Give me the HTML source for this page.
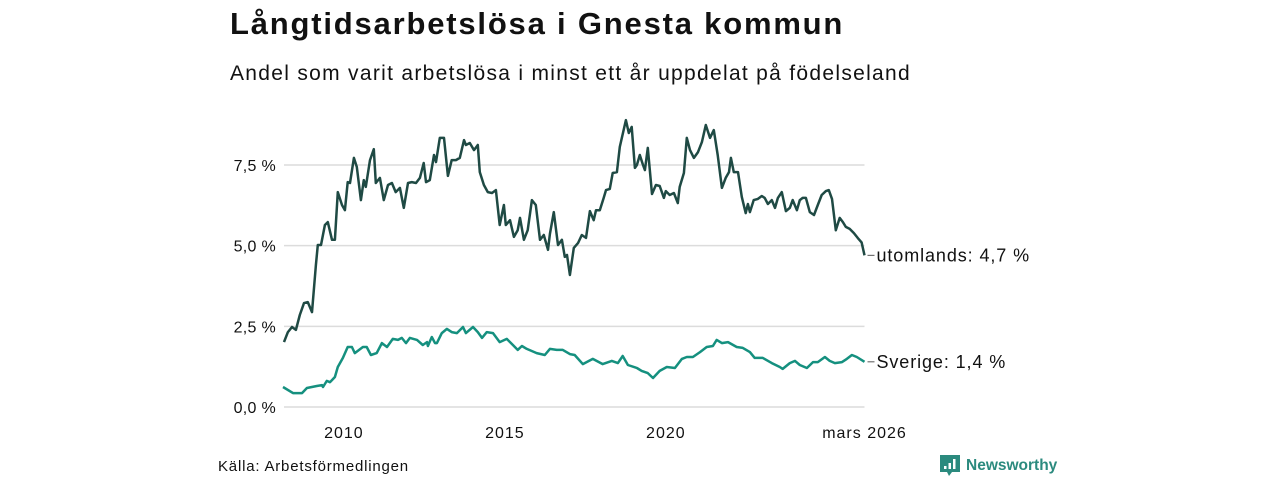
<!DOCTYPE html>
<html><head><meta charset="utf-8"><style>
body{margin:0;background:#fff;width:1280px;height:480px;overflow:hidden;font-family:"Liberation Sans",sans-serif;color:#111}
#t{position:absolute;left:230px;top:6px;font-size:31px;font-weight:bold;margin:0;letter-spacing:1.8px}
#s{position:absolute;left:230px;top:62px;font-size:21px;letter-spacing:1.3px}
#src{position:absolute;left:218px;top:458px;font-size:15px;letter-spacing:0.8px}
#logo{position:absolute;left:940px;top:455px;font-size:15.5px;font-weight:bold;color:#2b8a7e;display:flex;align-items:center;gap:6px}
svg{position:absolute;left:0;top:0}
</style></head><body>
<h1 id="t">Långtidsarbetslösa i Gnesta kommun</h1>
<div id="s">Andel som varit arbetslösa i minst ett år uppdelat på födelseland</div>
<div id="src">Källa: Arbetsförmedlingen</div>
<div id="logo"><svg style="position:static" width="20" height="22" viewBox="0 0 20 22"><path d="M0 0h20v17h-8l-3 4-2-4H0z" fill="#2b8a7e"/><rect x="4" y="11" width="2.5" height="3" fill="#fff"/><rect x="8.5" y="8" width="2.5" height="6" fill="#fff"/><rect x="13" y="4" width="2.5" height="10" fill="#fff"/></svg><span>Newsworthy</span></div>
<svg id="chart" width="1280" height="480"></svg>
<script>
const yTicks=[0,2.5,5,7.5];
const yTickLabels=["0,0 %","2,5 %","5,0 %","7,5 %"];
const xTicks=[2010,2015,2020,2026.17];
const xTickLabels=["2010","2015","2020","mars 2026"];
const foreignDates=[2008.14,2008.26,2008.39,2008.51,2008.63,2008.76,2008.88,2009.01,2009.13,2009.19,2009.29,2009.41,2009.50,2009.63,2009.72,2009.81,2009.94,2010.03,2010.12,2010.19,2010.31,2010.40,2010.53,2010.62,2010.68,2010.81,2010.93,2010.99,2011.12,2011.24,2011.37,2011.49,2011.61,2011.74,2011.86,2011.99,2012.11,2012.24,2012.36,2012.48,2012.55,2012.67,2012.80,2012.86,2012.98,2013.11,2013.23,2013.35,2013.48,2013.60,2013.73,2013.79,2013.91,2014.04,2014.16,2014.22,2014.35,2014.47,2014.60,2014.72,2014.84,2014.97,2015.03,2015.16,2015.28,2015.40,2015.47,2015.59,2015.71,2015.84,2015.96,2016.09,2016.21,2016.34,2016.40,2016.52,2016.65,2016.77,2016.86,2016.93,2017.02,2017.14,2017.27,2017.39,2017.52,2017.64,2017.76,2017.83,2017.95,2018.07,2018.14,2018.26,2018.35,2018.48,2018.57,2018.76,2018.85,2018.94,2019.04,2019.10,2019.19,2019.29,2019.35,2019.44,2019.57,2019.69,2019.81,2019.94,2020.00,2020.12,2020.25,2020.37,2020.43,2020.56,2020.65,2020.75,2020.87,2021.00,2021.12,2021.24,2021.37,2021.49,2021.61,2021.74,2021.86,2021.96,2022.02,2022.11,2022.24,2022.36,2022.48,2022.55,2022.61,2022.73,2022.86,2022.98,2023.07,2023.17,2023.29,2023.39,2023.48,2023.60,2023.73,2023.85,2023.94,2024.07,2024.16,2024.25,2024.35,2024.47,2024.60,2024.72,2024.84,2024.97,2025.06,2025.16,2025.28,2025.40,2025.50,2025.59,2025.71,2025.84,2025.96,2026.08,2026.17];
const foreignValues=[2.01,2.32,2.48,2.39,2.85,3.22,3.25,2.94,4.40,5.02,5.02,5.64,5.73,5.18,5.18,6.66,6.26,6.10,6.97,6.94,7.72,7.44,6.41,7.03,6.82,7.65,7.99,6.94,7.10,6.41,6.88,6.94,6.66,6.79,6.17,6.94,6.97,6.94,7.10,7.56,6.97,7.03,7.81,7.59,8.34,8.34,7.16,7.65,7.65,7.72,8.27,8.12,8.18,7.96,8.12,7.28,6.88,6.66,6.63,6.72,5.64,6.26,5.64,5.79,5.27,5.48,5.86,5.18,5.48,6.41,6.26,5.18,5.33,4.87,5.36,6.04,5.02,5.18,4.65,4.71,4.09,4.93,5.08,5.33,5.24,6.07,5.79,6.10,6.10,6.48,6.72,6.76,7.25,7.28,8.06,8.89,8.49,8.68,7.41,7.50,7.81,7.50,7.34,8.03,6.60,6.88,6.85,6.48,6.69,6.57,6.63,6.32,6.82,7.25,8.34,7.96,7.72,7.90,8.21,8.74,8.34,8.58,7.81,6.79,7.10,7.28,7.72,7.28,7.28,6.51,6.01,6.29,6.04,6.41,6.45,6.54,6.48,6.29,6.41,6.17,6.48,6.66,6.07,6.17,6.41,6.10,6.41,6.48,6.48,6.04,5.95,6.26,6.57,6.69,6.72,6.45,5.48,5.86,5.73,5.58,5.52,5.39,5.24,5.10,4.70];
const swedenDates=[2008.11,2008.42,2008.70,2008.85,2009.16,2009.32,2009.35,2009.47,2009.57,2009.72,2009.81,2009.97,2010.12,2010.25,2010.34,2010.59,2010.71,2010.84,2011.02,2011.18,2011.34,2011.52,2011.68,2011.80,2011.93,2012.05,2012.27,2012.45,2012.58,2012.61,2012.73,2012.83,2012.89,2013.04,2013.20,2013.35,2013.51,2013.70,2013.79,2014.01,2014.16,2014.29,2014.44,2014.63,2014.84,2015.06,2015.25,2015.40,2015.53,2015.68,2015.99,2016.24,2016.40,2016.61,2016.80,2017.02,2017.17,2017.42,2017.73,2018.04,2018.32,2018.51,2018.66,2018.82,2019.10,2019.25,2019.44,2019.60,2019.81,2020.03,2020.28,2020.50,2020.65,2020.84,2021.06,2021.27,2021.46,2021.58,2021.74,2021.93,2022.20,2022.39,2022.61,2022.76,2023.01,2023.29,2023.54,2023.63,2023.85,2024.01,2024.16,2024.38,2024.57,2024.72,2024.94,2025.09,2025.25,2025.47,2025.62,2025.78,2025.93,2026.17];
const swedenValues=[0.62,0.43,0.43,0.59,0.65,0.68,0.62,0.81,0.77,0.93,1.24,1.52,1.86,1.86,1.67,1.86,1.86,1.61,1.67,1.98,1.86,2.11,2.08,2.14,1.98,2.14,2.08,1.92,2.01,1.89,2.17,1.98,1.98,2.29,2.42,2.32,2.29,2.48,2.29,2.48,2.32,2.14,2.32,2.29,2.01,2.11,1.92,1.77,1.89,1.80,1.67,1.61,1.80,1.77,1.77,1.64,1.61,1.33,1.49,1.33,1.43,1.36,1.58,1.30,1.21,1.12,1.05,0.90,1.12,1.24,1.21,1.49,1.55,1.55,1.70,1.86,1.89,2.08,1.98,2.01,1.86,1.83,1.70,1.52,1.52,1.36,1.24,1.18,1.36,1.43,1.30,1.21,1.39,1.39,1.55,1.43,1.36,1.39,1.49,1.61,1.55,1.40];
const seriesLabels=["utomlands: 4,7 %","Sverige: 1,4 %"];

const NS="http://www.w3.org/2000/svg";
const svg=document.getElementById('chart');
const X0=284,X1=864.5,D0=2008.14,D1=2026.17;
const x=d=>X0+(d-D0)/(D1-D0)*(X1-X0);
const y=v=>407-v*32.27;
function mk(tag,attrs){const e=document.createElementNS(NS,tag);for(const k in attrs)e.setAttribute(k,attrs[k]);svg.appendChild(e);return e;}
yTicks.forEach((v,i)=>{
  const g=mk('line',{x1:X0,x2:X1,y1:y(v),y2:y(v),stroke:'#dcdcdc','stroke-width':1.5});
  
  
  const t=mk('text',{x:276,y:y(v)+6,'text-anchor':'end','font-size':16,fill:'#111','letter-spacing':0.3});
  t.textContent=yTickLabels[i];
  
  
});
xTicks.forEach((d,i)=>{
  const t=mk('text',{x:x(d),y:438,'text-anchor':'middle','font-size':16,fill:'#111','letter-spacing':1});
  t.textContent=xTickLabels[i];
  
  
});
function line(ds,vs,col,name){
  const p=mk('polyline',{points:ds.map((d,i)=>x(d).toFixed(1)+','+y(vs[i]).toFixed(1)).join(' '),fill:'none',stroke:col,'stroke-width':2.5,'stroke-linejoin':'round'});
  
  
}
line(foreignDates,foreignValues,'#1f4a44','line-utomlands');
line(swedenDates,swedenValues,'#15907f','line-sverige');
[[foreignValues,0],[swedenValues,1]].forEach(([vs,i])=>{
  const yy=y(vs[vs.length-1]);
  const l=mk('line',{x1:X1+3,x2:X1+10,y1:yy,y2:yy,stroke:'#555','stroke-width':1});
  
  
  const t=mk('text',{x:X1+12,y:yy+6,'font-size':18,fill:'#111','letter-spacing':0.9});
  t.textContent=seriesLabels[i];
  
  
});
</script>
</body></html>
